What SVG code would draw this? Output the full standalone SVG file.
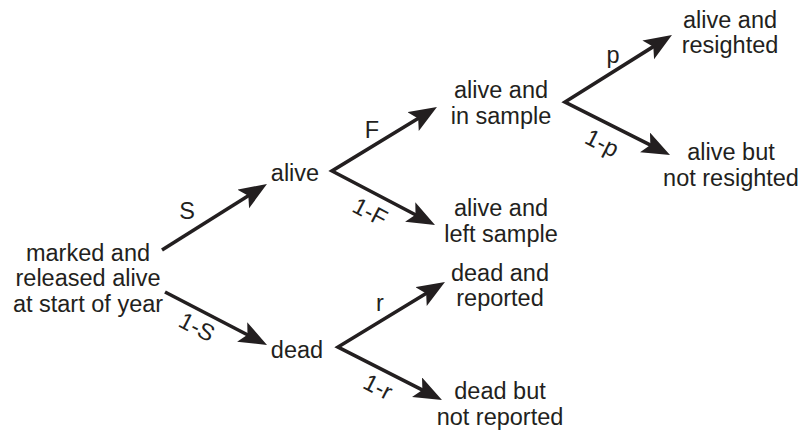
<svg xmlns="http://www.w3.org/2000/svg" width="801" height="438" viewBox="0 0 801 438">
<defs>
<marker id="ah" markerUnits="userSpaceOnUse" markerWidth="30" markerHeight="24" refX="14" refY="11" orient="auto-start-reverse">
<path d="M0,0 L28,11 L0,22 L6,11 Z" fill="#231f20"/>
</marker>
<style>
text{font-family:"Liberation Sans",Arial,sans-serif;font-size:23.5px;fill:#231f20;text-anchor:middle}
.c{fill:none;stroke:#231f20;stroke-width:3.6;stroke-linejoin:miter;stroke-miterlimit:10}
</style>
</defs>
<rect width="801" height="438" fill="#fff"/>
<g id="connectors">
<path class="c" d="M162,250 L255.1,191.5" marker-end="url(#ah)"/>
<path class="c" d="M165,292 L254.6,338.5" marker-end="url(#ah)"/>
<path class="c" d="M425,114.3 L332,171 L422.6,218.5" marker-start="url(#ah)" marker-end="url(#ah)"/>
<path class="c" d="M433,289.3 L338,347 L429.5,393.6" marker-start="url(#ah)" marker-end="url(#ah)"/>
<path class="c" d="M660.1,42.4 L565,102 L657.5,148.7" marker-start="url(#ah)" marker-end="url(#ah)"/>
</g>
<g id="edge-labels">
<text x="187" y="219">S</text>
<text transform="translate(197,327) rotate(27.5)" y="8">1-S</text>
<text x="372" y="138">F</text>
<text transform="translate(370,212) rotate(27.7)" y="8">1-F</text>
<text x="380" y="311">r</text>
<text transform="translate(378,387) rotate(27)" y="8">1-r</text>
<text x="613" y="63">p</text>
<text transform="translate(602,143) rotate(26.8)" y="8">1-p</text>
</g>
<g id="root"><text x="88" y="261">marked and</text><text x="88" y="286">released alive</text><text x="88" y="312">at start of year</text></g>
<g id="alive"><text x="295" y="181">alive</text></g>
<g id="dead"><text x="297" y="358">dead</text></g>
<g id="alive-in-sample"><text x="501" y="98">alive and</text><text x="501" y="124">in sample</text></g>
<g id="alive-left-sample"><text x="501" y="216">alive and</text><text x="501" y="242">left sample</text></g>
<g id="dead-reported"><text x="500" y="281">dead and</text><text x="500" y="306">reported</text></g>
<g id="dead-not-reported"><text x="500" y="399">dead but</text><text x="500" y="425">not reported</text></g>
<g id="alive-resighted"><text x="730" y="28">alive and</text><text x="730" y="53">resighted</text></g>
<g id="alive-not-resighted"><text x="731" y="160">alive but</text><text x="731" y="186">not resighted</text></g>
</svg>
